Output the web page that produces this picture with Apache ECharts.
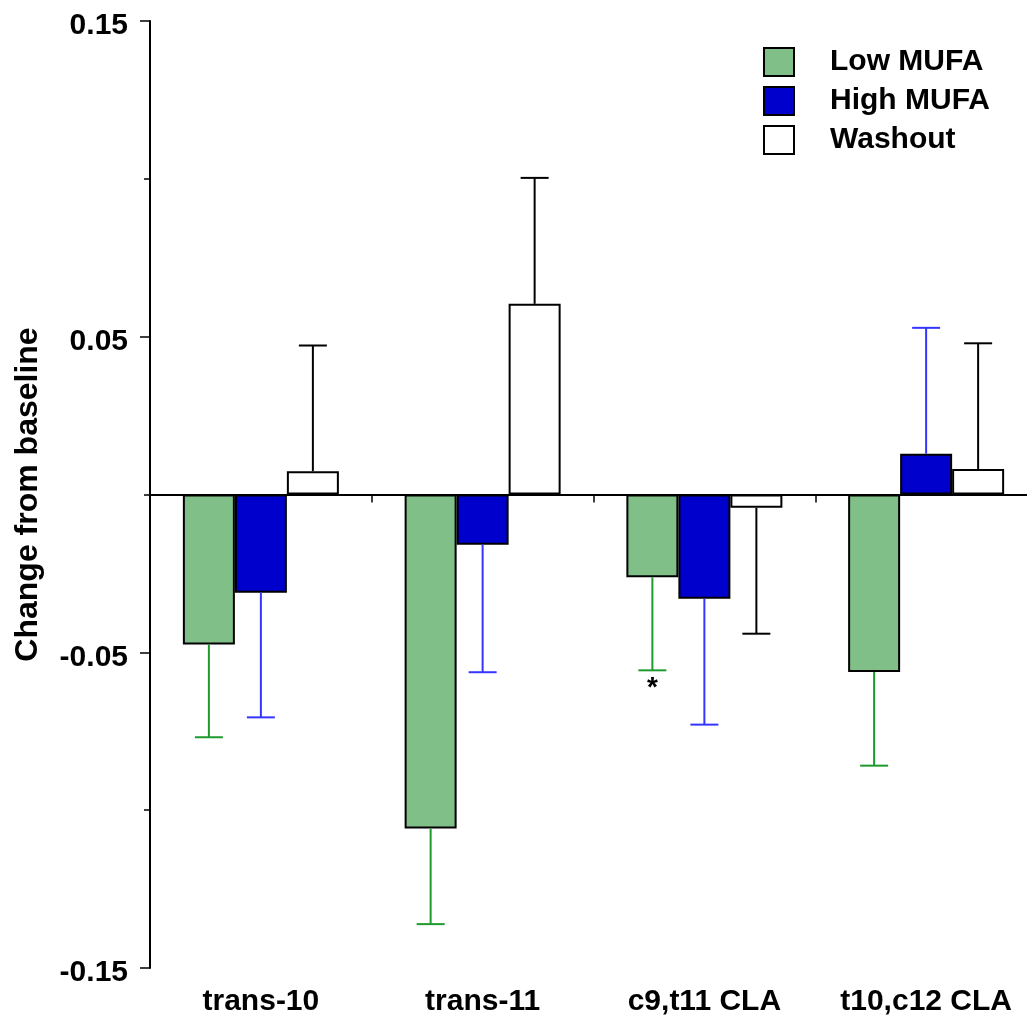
<!DOCTYPE html>
<html>
<head>
<meta charset="utf-8">
<title>Change from baseline</title>
<script src="https://cdn.jsdelivr.net/npm/echarts@6/dist/echarts.min.js"></script>
<style>
  html, body { margin: 0; padding: 0; background: #fff; }
  #chart { width: 1027px; height: 1021px; }
</style>
</head>
<body>
<div id="chart"></div>
<script>
// Fatty acid categories
const categories = ['trans-10', 'trans-11', 'c9,t11 CLA', 't10,c12 CLA'];

// Mean change from baseline and SEM for each diet period
const lowMufa = [-0.0475, -0.1058, -0.0262, -0.0562];
const lowMufaErr = [0.0294, 0.0303, 0.0295, 0.0297];
const highMufa = [-0.0311, -0.0159, -0.0330, 0.0129];
const highMufaErr = [0.0395, 0.0404, 0.0399, 0.0399];
const washout = [0.0074, 0.0604, -0.0042, 0.0081];
const washoutErr = [0.0398, 0.0399, 0.0399, 0.0398];

// Significance marks placed under the Low MUFA error bars
const lowMufaMarks = ['', '', '*', ''];

// Y axis range and labelled ticks
const yMin = -0.15;
const yMax = 0.15;
const yLabelStep = 0.1;

const FONT = '"Liberation Sans", Arial, Helvetica, sans-serif';
const BAR_W = 52;
const CAP_W = 28;

const chart = echarts.init(document.getElementById('chart'), null, { renderer: 'canvas' });

function errorSeries(name, values, errs, color, slot, marks) {
  return {
    name: name + ' SEM',
    type: 'custom',
    z: 5,
    silent: true,
    data: values.map((v, i) => [i, v, errs[i]]),
    encode: { x: 0, y: 1 },
    renderItem: function (params, api) {
      const idx = api.value(0);
      const v = api.value(1);
      const e = api.value(2);
      const end = v >= 0 ? v + e : v - e;
      const base = api.coord([idx, v]);
      const tip = api.coord([idx, end]);
      const x = base[0] + slot * BAR_W;
      const children = [
        { type: 'line', shape: { x1: x, y1: base[1], x2: x, y2: tip[1] },
          style: { stroke: color, lineWidth: 2 } },
        { type: 'line', shape: { x1: x - CAP_W / 2, y1: tip[1], x2: x + CAP_W / 2, y2: tip[1] },
          style: { stroke: color, lineWidth: 2 } }
      ];
      const mark = marks ? marks[params.dataIndex] : '';
      if (mark) {
        children.push({
          type: 'text',
          x: x, y: tip[1] + 4,
          style: { text: mark, fill: '#000', font: 'bold 28px ' + FONT, align: 'center', verticalAlign: 'top' }
        });
      }
      return { type: 'group', children: children };
    }
  };
}

const barBorder = { borderColor: '#000', borderWidth: 2 };

const option = {
  backgroundColor: '#fff',
  animation: false,
  grid: { left: 150, width: 887, top: 21, bottom: 53, containLabel: false, outerBoundsMode: 'none' },
  legend: {
    data: ['Low MUFA', 'High MUFA', 'Washout'],
    orient: 'vertical',
    left: 763,
    top: 47,
    padding: 0,
    itemWidth: 30,
    itemHeight: 28,
    itemGap: 9,
    icon: 'rect',
    itemStyle: { borderColor: '#000', borderWidth: 2 },
    textStyle: {
      fontFamily: FONT, fontWeight: 'bold', fontSize: 30, color: '#000',
      lineHeight: 28, padding: [0, 0, 0, 31]
    }
  },
  xAxis: {
    type: 'category',
    data: categories,
    axisLine: { show: true, lineStyle: { color: '#000', width: 2 } },
    axisTick: { show: true, length: 8, lineStyle: { color: '#000', width: 1.5 } },
    axisLabel: { interval: 0, color: '#000', fontFamily: FONT, fontWeight: 'bold', fontSize: 30, margin: 19 },
    splitLine: { show: false }
  },
  yAxis: {
    type: 'value',
    min: yMin,
    max: yMax,
    interval: yLabelStep,
    name: 'Change from baseline',
    nameLocation: 'middle',
    nameGap: 106,
    nameTextStyle: { color: '#000', fontFamily: FONT, fontWeight: 'bold', fontSize: 32 },
    axisLine: { show: true, lineStyle: { color: '#000', width: 2 } },
    axisTick: { show: true, length: 10, lineStyle: { color: '#000', width: 1.5 } },
    minorTick: { show: true, splitNumber: 2, length: 6, lineStyle: { color: '#000', width: 1.5 } },
    axisLabel: {
      color: '#000', fontFamily: FONT, fontWeight: 'bold', fontSize: 30, margin: 22,
      verticalAlign: 'top', lineHeight: 10,
      formatter: v => v.toFixed(2)
    },
    splitLine: { show: false },
    minorSplitLine: { show: false }
  },
  series: [
    {
      name: 'Low MUFA', type: 'bar', data: lowMufa, barWidth: BAR_W, barGap: '0%',
      itemStyle: Object.assign({ color: '#80C088' }, barBorder),
      markLine: {
        silent: true, symbol: 'none', label: { show: false },
        lineStyle: { color: '#000', width: 1.5, type: 'solid' },
        data: [{ yAxis: 0 }]
      }
    },
    {
      name: 'High MUFA', type: 'bar', data: highMufa, barWidth: BAR_W, barGap: '0%',
      itemStyle: Object.assign({ color: '#0000CC' }, barBorder)
    },
    {
      name: 'Washout', type: 'bar', data: washout, barWidth: BAR_W, barGap: '0%',
      itemStyle: Object.assign({ color: '#FFFFFF' }, barBorder)
    },
    errorSeries('Low MUFA', lowMufa, lowMufaErr, '#1E9A2E', -1, lowMufaMarks),
    errorSeries('High MUFA', highMufa, highMufaErr, '#3535FF', 0, null),
    errorSeries('Washout', washout, washoutErr, '#000000', 1, null)
  ]
};

chart.setOption(option);
</script>
</body>
</html>
